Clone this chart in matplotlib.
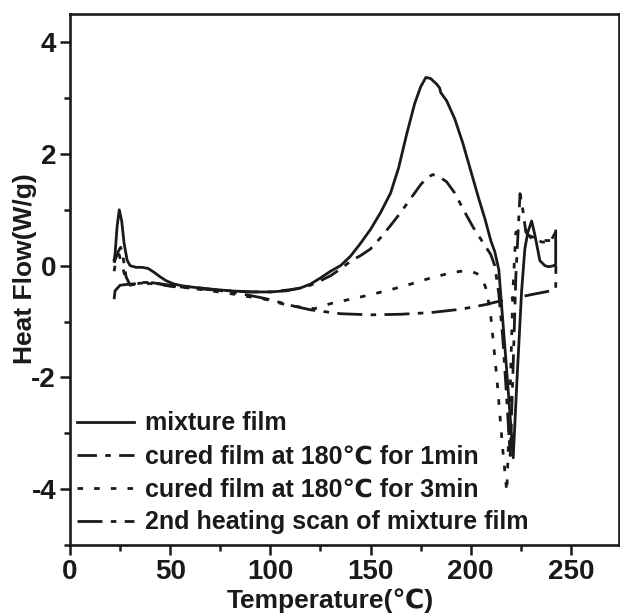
import matplotlib
matplotlib.use("Agg")
import matplotlib.pyplot as plt
from matplotlib.ticker import MultipleLocator

plt.rcParams['font.family'] = ['Liberation Sans Narrow', 'Liberation Sans', 'DejaVu Sans']
plt.rcParams['font.weight'] = 'bold'
plt.rcParams['axes.unicode_minus'] = False

# mixture film (solid)
mix_t = [22, 22.5, 23.5, 24.6, 25.8, 27, 28.5, 30, 33, 36, 39, 42, 45, 48, 52, 56, 60, 70, 80, 90,
         100, 108, 115, 120, 125, 130, 135, 140, 145, 150, 155, 160, 164, 168, 172, 175, 177.6, 180,
         183, 184.5, 185, 188, 192, 196, 200, 204, 207, 210, 212, 214, 218, 221.2, 223, 225.4, 227,
         228.5, 230.4, 232, 234.5, 237, 239, 241.4, 242.4, 242.4]
mix_hf = [0.1, 0.21, 0.7, 1.0, 0.8, 0.4, 0.1, 0.0, -0.03, -0.03, -0.05, -0.12, -0.2, -0.27, -0.33,
          -0.36, -0.38, -0.42, -0.45, -0.47, -0.47, -0.45, -0.4, -0.33, -0.22, -0.1, 0.0, 0.17, 0.4,
          0.65, 0.95, 1.3, 1.75, 2.35, 2.9, 3.2, 3.37, 3.35, 3.25, 3.18, 3.1, 2.95, 2.63, 2.2, 1.7,
          1.2, 0.85, 0.45, 0.25, -0.07, -1.9, -3.44, -2.1, -0.45, 0.3, 0.6, 0.8, 0.55, 0.09, 0.0,
          -0.02, 0.0, 0.02, 0.62]

# cured film 180C 1 min (dash-dot)
c1_t = [22, 23, 24, 25.3, 26.5, 28, 30, 33, 36, 40, 45, 50, 60, 70, 80, 90, 100, 110, 115, 120,
        125, 130, 135, 140, 145, 150, 155, 160, 165, 170, 175, 178, 181, 184, 188, 192, 197, 201,
        206, 210, 212, 214, 216, 218, 219.7, 221, 222.5, 224.6, 226, 227.5, 230, 233, 236, 240, 242.4]
c1_hf = [0.05, 0.15, 0.25, 0.33, 0.15, -0.2, -0.35, -0.33, -0.3, -0.3, -0.33, -0.37, -0.4, -0.43,
         -0.45, -0.47, -0.47, -0.43, -0.4, -0.35, -0.27, -0.18, -0.06, 0.08, 0.18, 0.3, 0.5, 0.72,
         0.95, 1.2, 1.45, 1.57, 1.63, 1.6, 1.5, 1.3, 0.96, 0.7, 0.42, 0.2, 0.0, -0.5, -1.3, -2.4,
         -3.4, -2.0, -0.2, 1.29, 1.0, 0.6, 0.5, 0.45, 0.42, 0.45, 0.6]

# cured film 180C 3 min (dotted)
c3_t = [22, 23, 24.5, 26, 28, 30, 35, 40, 50, 60, 70, 80, 90, 96, 110, 122, 130, 140, 150, 160,
        170, 180, 190, 195, 200, 203, 206, 208, 210, 213, 216, 218, 219.5, 221, 222.5, 225, 228,
        232, 236, 240, 242.4]
c3_hf = [-0.1, 0.1, 0.2, 0.0, -0.25, -0.33, -0.32, -0.32, -0.36, -0.4, -0.45, -0.5, -0.56, -0.59,
         -0.72, -0.77, -0.68, -0.6, -0.52, -0.43, -0.33, -0.22, -0.13, -0.1, -0.1, -0.14, -0.25,
         -0.45, -0.9, -2.0, -3.3, -4.05, -2.5, -0.5, 0.6, 0.6, 0.55, 0.5, 0.45, 0.45, 0.5]

# 2nd heating scan of mixture film (dash-dot)
h2_t = [22, 22.5, 25, 30, 40, 50, 60, 70, 85, 95, 100, 110, 120, 135, 150, 165, 180, 195, 207,
        215, 222, 230, 240, 242.4, 242.5]
h2_hf = [-0.6, -0.45, -0.35, -0.33, -0.3, -0.35, -0.38, -0.42, -0.5, -0.57, -0.61, -0.71, -0.79,
         -0.86, -0.88, -0.87, -0.84, -0.78, -0.7, -0.63, -0.58, -0.52, -0.45, -0.42, 0.0]

labels = ['mixture film', 'cured film at 180℃ for 1min', 'cured film at 180℃ for 3min',
          '2nd heating scan of mixture film']

fig = plt.figure(figsize=(6.2, 6.16), dpi=100)
ax = fig.add_axes([0.1129, 0.1153, 0.8855, 0.8615])

lw = 2.0
ax.plot(mix_t, mix_hf, color='#1a1a1a', lw=lw, ls='-', label=labels[0])
ax.plot(c1_t, c1_hf, color='#1a1a1a', lw=lw, ls=(0, (7, 3, 2, 3)), label=labels[1])
ax.plot(c3_t, c3_hf, color='#1a1a1a', lw=lw, ls=(0, (2, 4)), label=labels[2])
ax.plot(h2_t, h2_hf, color='#1a1a1a', lw=lw, ls=(0, (9, 3, 2, 3)), label=labels[3])

ax.set_xlim(0, 274)
ax.set_ylim(-5, 4.5)
ax.xaxis.set_major_locator(MultipleLocator(50))
ax.xaxis.set_minor_locator(MultipleLocator(25))
ax.yaxis.set_major_locator(MultipleLocator(2))
ax.yaxis.set_minor_locator(MultipleLocator(1))
ax.tick_params(which='major', direction='out', length=7, width=1.8, labelsize=20, pad=3,
               color='#1a1a1a', labelcolor='#1a1a1a')
ax.tick_params(which='minor', direction='out', length=4, width=1.8, color='#1a1a1a')
ax.tick_params(top=False, right=False)
for s in ax.spines.values():
    s.set_linewidth(1.9)
    s.set_color('#1a1a1a')

ax.set_xlabel('Temperature(℃)', fontsize=19, fontweight='bold', color='#1a1a1a')
ax.set_ylabel('Heat Flow(W/g)', fontsize=19, fontweight='bold', color='#1a1a1a')
ax.xaxis.set_label_coords(0.474, -0.082)
ax.yaxis.set_label_coords(-0.06, 0.52)

leg = ax.legend(loc='lower left', bbox_to_anchor=(0.0, 0.006), frameon=False, fontsize=18,
                handlelength=2.25, handletextpad=0.45, labelspacing=0.36, borderaxespad=0.0,
                borderpad=0.3)
for t in leg.get_texts():
    t.set_color('#1a1a1a')

fig.savefig('out.png', dpi=100)
